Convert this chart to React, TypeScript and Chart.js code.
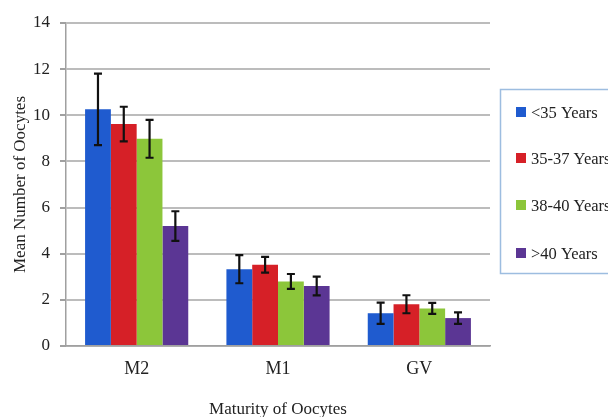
import React, { useEffect, useRef } from "react";
import { Chart, registerables } from "chart.js";

Chart.register(...registerables);

const categories = ["M2", "M1", "GV"];
const seriesLabels = ["<35 Years", "35-37 Years", "38-40 Years", ">40 Years"];
const under35 = [10.26, 3.33, 1.42];
const age35to37 = [9.62, 3.52, 1.81];
const age38to40 = [8.98, 2.8, 1.63];
const over40 = [5.2, 2.6, 1.21];
const under35Err = [1.55, 0.61, 0.46];
const age35to37Err = [0.75, 0.34, 0.39];
const age38to40Err = [0.82, 0.32, 0.24];
const over40Err = [0.64, 0.41, 0.25];
const yTicks = [0, 2, 4, 6, 8, 10, 12, 14];

const seriesValues = [under35, age35to37, age38to40, over40];
const seriesErrors = [under35Err, age35to37Err, age38to40Err, over40Err];
const colors = ["#1f5bcf", "#d62027", "#8cc63a", "#5b3694"];

const FONT = "'Liberation Serif', 'Times New Roman', serif";

const errorBarPlugin = {
  id: "errorBars",
  afterDatasetsDraw(chart: any) {
    const ctx = chart.ctx;
    const yScale = chart.scales.y;
    ctx.save();
    ctx.strokeStyle = "#111";
    ctx.lineWidth = 2.2;
    chart.data.datasets.forEach((ds: any, i: number) => {
      const meta = chart.getDatasetMeta(i);
      const errs = seriesErrors[i];
      meta.data.forEach((bar: any, j: number) => {
        const v = ds.data[j];
        const e = errs[j];
        const x = bar.x;
        const yTop = yScale.getPixelForValue(v + e);
        const yBot = yScale.getPixelForValue(v - e);
        const cap = 4;
        ctx.beginPath();
        ctx.moveTo(x, yTop);
        ctx.lineTo(x, yBot);
        ctx.moveTo(x - cap, yTop);
        ctx.lineTo(x + cap, yTop);
        ctx.moveTo(x - cap, yBot);
        ctx.lineTo(x + cap, yBot);
        ctx.stroke();
      });
    });
    ctx.restore();
  },
};

const boxLegendPlugin = {
  id: "boxLegend",
  afterDraw(chart: any) {
    const ctx = chart.ctx;
    const left = 500;
    const top = 89;
    const bottom = 273;
    ctx.save();
    ctx.strokeStyle = "#9dbde0";
    ctx.lineWidth = 1.5;
    ctx.strokeRect(left + 0.5, top + 0.5, 200, bottom - top);
    ctx.font = "16.5px " + FONT;
    ctx.textBaseline = "middle";
    ctx.textAlign = "left";
    const rows = [113, 159, 206, 254];
    chart.data.datasets.forEach((ds: any, i: number) => {
      const cy = rows[i];
      ctx.fillStyle = ds.backgroundColor;
      ctx.fillRect(516, cy - 6, 10, 10);
      ctx.fillStyle = "#222";
      ctx.fillText(ds.label, 531, cy + 1);
    });
    ctx.restore();
  },
};

export default function App() {
  const ref = useRef<HTMLCanvasElement | null>(null);
  useEffect(() => {
    if (!ref.current) return;
    const chart = new Chart(ref.current, {
      type: "bar",
      data: {
        labels: categories,
        datasets: seriesValues.map((vals, i) => ({
          label: seriesLabels[i],
          data: vals,
          backgroundColor: colors[i],
          borderWidth: 0,
          barPercentage: 1,
          categoryPercentage: 0.73,
        })),
      },
      options: {
        animation: false,
        responsive: false,
        maintainAspectRatio: false,
        layout: { padding: { top: 23, right: 118, left: 0, bottom: 0 } },
        plugins: {
          legend: { display: false },
          tooltip: { enabled: false },
        },
        scales: {
          x: {
            grid: { display: false, drawTicks: false },
            border: { display: true, color: "#a0a0a0", width: 1.5 },
            ticks: {
              color: "#222",
              font: { family: FONT, size: 18 },
              padding: 12,
            },
            title: {
              display: true,
              text: "Maturity of Oocytes",
              color: "#222",
              font: { family: FONT, size: 17 },
              padding: { top: 0, bottom: -3 },
            },
            afterFit: (s: any) => {
              s.height = 71;
            },
          },
          y: {
            min: 0,
            max: 14,
            afterBuildTicks: (s: any) => {
              s.ticks = yTicks.map((v) => ({ value: v }));
            },
            grid: {
              color: "#bcbcbc",
              lineWidth: 2,
              drawTicks: true,
              tickLength: 6,
              tickColor: "#a0a0a0",
            },
            border: { display: true, color: "#a0a0a0", width: 1.5 },
            ticks: {
              color: "#222",
              font: { family: FONT, size: 17 },
              padding: 10,
            },
            title: {
              display: true,
              text: "Mean Number of Oocytes",
              color: "#222",
              font: { family: FONT, size: 17 },
              padding: { top: 10, bottom: 0 },
            },
            afterFit: (s: any) => {
              s.width = 66;
            },
          },
        },
      },
      plugins: [errorBarPlugin, boxLegendPlugin],
    });
    return () => chart.destroy();
  }, []);
  return (
    <div style={{ position: "fixed", left: 0, top: 0, width: 608, height: 417, background: "#fff" }}>
      <canvas ref={ref} width={608} height={417} style={{ display: "block" }} />
    </div>
  );
}
